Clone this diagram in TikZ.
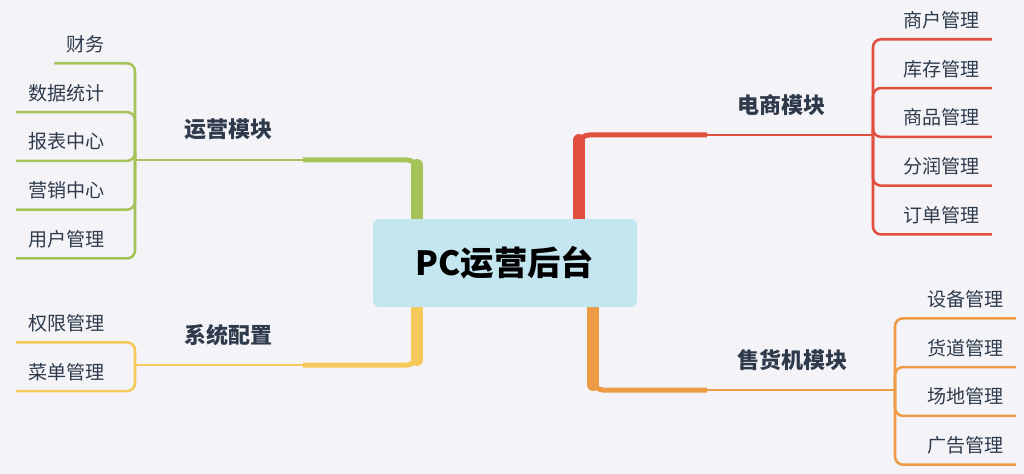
\documentclass[tikz,border=0pt]{standalone}
\usepackage{fontspec}
\setmainfont{Noto Sans CJK SC}
\usetikzlibrary{positioning,backgrounds}
\definecolor{bgcol}{HTML}{F4F4F8}
\definecolor{rootcol}{HTML}{C4E6F0}
\definecolor{txtcol}{HTML}{2E3A4B}
\definecolor{gcol}{HTML}{A6C35A}
\definecolor{ycol}{HTML}{F6C95B}
\definecolor{rcol}{HTML}{E1503F}
\definecolor{ocol}{HTML}{EE9B47}
\tikzset{
  basic/.style  = {rectangle, text=txtcol, inner ysep=0pt},
  root/.style   = {basic, rounded corners=4.5pt, fill=rootcol, text=black,
                   minimum width=198pt, minimum height=66pt,
                   font=\fontsize{25}{30}\selectfont\bfseries},
  module/.style = {basic, inner xsep=22.5pt, minimum height=45pt,
                   font=\fontsize{16.5}{20}\selectfont\bfseries},
  leaf/.style   = {basic, inner xsep=9pt, minimum height=28.5pt,
                   font=\fontsize{14.3}{17}\selectfont},
  twig/.style   = {line width=1.9pt, rounded corners=6pt},
  limb/.style   = {line width=2.2pt},
  trunk/.style  = {line width=3.75pt, rounded corners=7.5pt},
  stub/.style   = {line width=9pt, line cap=round}
}

\begin{document}
\begin{tikzpicture}[x=0.75pt, y=-0.75pt]
\useasboundingbox (0,0) rectangle (1024,474);

% centro
\node[root] (root) at (505,263) {PC运营后台};

% modules, sitting on their branch line
\node[module, anchor=south east] (m1) at (303,160) {运营模块};
\node[module, anchor=south east] (m2) at (303,365) {系统配置};
\node[module, anchor=south west] (m3) at (707,135) {电商模块};
\node[module, anchor=south west] (m4) at (707,390) {售货机模块};

% where each branch splits
\coordinate (j1) at (135,160);
\coordinate (j2) at (135,365);
\coordinate (j3) at (873,135);
\coordinate (j4) at (895,390);

% feet of the stubs on the root box, and their tops
\coordinate (s1) at ([xshift=-66pt]root.north);
\coordinate (s2) at ([xshift=-66pt]root.south);
\coordinate (s3) at ([xshift=55.5pt]root.north);
\coordinate (s4) at ([xshift=66pt]root.south);
\coordinate (c1) at (417,165);
\coordinate (c2) at (417,360);
\coordinate (c3) at (579,140);
\coordinate (c4) at (593,385);

% leaves
\begin{scope}[every node/.style={leaf}]
\node[anchor=east] (g1) at (117,44) {财务};
\node[below=7.7pt of g1.south east, anchor=north east] (g2) {数据统计};
\node[below=7.7pt of g2.south east, anchor=north east] (g3) {报表中心};
\node[below=7.7pt of g3.south east, anchor=north east] (g4) {营销中心};
\node[below=7.7pt of g4.south east, anchor=north east] (g5) {用户管理};

\node[anchor=east] (y1) at (117,323) {权限管理};
\node[below=7.7pt of y1.south east, anchor=north east] (y2) {菜单管理};

\node[anchor=west] (r1) at (891,20) {商户管理};
\node[below=7.7pt of r1.south west, anchor=north west] (r2) {库存管理};
\node[below=7.7pt of r2.south west, anchor=north west] (r3) {商品管理};
\node[below=7.7pt of r3.south west, anchor=north west] (r4) {分润管理};
\node[below=7.7pt of r4.south west, anchor=north west] (r5) {订单管理};

\node[anchor=west] (o1) at (915,299) {设备管理};
\node[below=7.7pt of o1.south west, anchor=north west] (o2) {货道管理};
\node[below=7.7pt of o2.south west, anchor=north west] (o3) {场地管理};
\node[below=7.7pt of o3.south west, anchor=north west] (o4) {广告管理};
\end{scope}

% thin part of each branch
\draw[gcol, limb] (m1.south east) -- (j1);
\draw[ycol, limb] (m2.south east) -- (j2);
\draw[rcol, limb] (m3.south west) -- (j3);
\draw[ocol, limb] (m4.south west) -- (j4);

\foreach \i in {1,...,5}
  \draw[gcol, twig] (j1) |- (g\i.south west);
\foreach \i in {1,2}
  \draw[ycol, twig] (j2) |- (y\i.south west);
\foreach \i in {1,...,5}
  \draw[rcol, twig] (j3) |- (r\i.south east);
\foreach \i in {1,...,4}
  \draw[ocol, twig] (j4) |- (o\i.south east);

% behind the root box
\begin{scope}[on background layer]
\fill[bgcol] (0,0) rectangle (1024,474);
\draw[gcol, trunk] (m1.south east) -| (s1);
\draw[ycol, trunk] (m2.south east) -| (s2);
\draw[rcol, trunk] (m3.south west) -| (s3);
\draw[ocol, trunk] (m4.south west) -| (s4);
\draw[gcol, stub] (s1) -- (c1);
\draw[ycol, stub] (s2) -- (c2);
\draw[rcol, stub] (s3) -- (c3);
\draw[ocol, stub] (s4) -- (c4);
\end{scope}
\end{tikzpicture}
\end{document}
